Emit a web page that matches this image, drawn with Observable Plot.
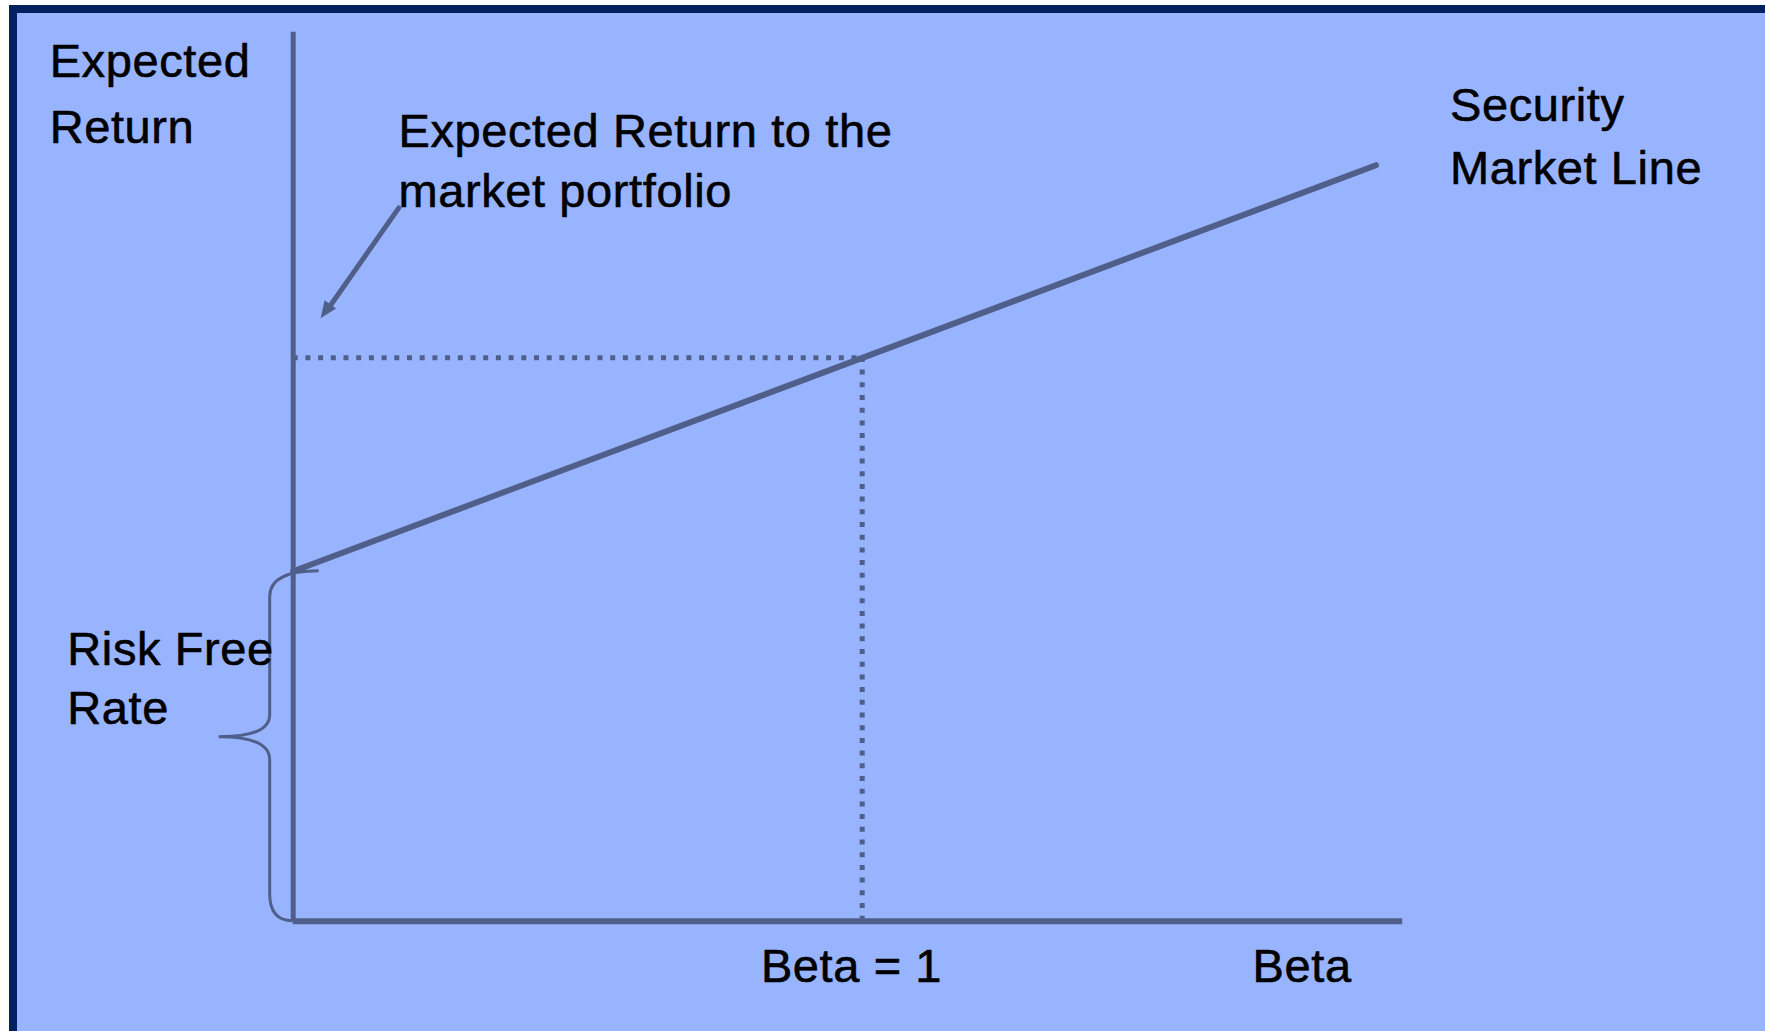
<!DOCTYPE html>
<html><head><meta charset="utf-8">
<script src="https://cdn.jsdelivr.net/npm/d3@7"></script>
<script src="https://cdn.jsdelivr.net/npm/@observablehq/plot@0.6"></script>
<style>
html,body{margin:0;padding:0;background:#fff;overflow:hidden;width:1765px;height:1031px;}
#frame{position:absolute;left:9px;top:5px;width:1800px;height:1040px;box-sizing:border-box;border:8px solid #04215f;background:#99b4ff;}
#chart{position:absolute;left:0;top:0;}
</style></head><body>
<div id="frame"></div>
<div id="chart"></div>
<script>
// ---- data (beta, expected return) ----
const riskFree = 5;
const marketBeta = 1;
const marketReturn = 8.05;
const smlBeta = [0, 1.903];
const smlReturn = [5, 10.8];
const axisBetaEnd = 1.95;
const axisReturnTop = 12.7;
const arrowFrom = [0.1856, 10.19];
const arrowTo = [0.049, 8.606];

// ---- annotation text lines ----
const labelText = ["Expected", "Return", "Expected Return to the", "market portfolio",
  "Security", "Market Line", "Risk Free", "Rate", "Beta = 1", "Beta"];
const labelBeta = [-0.428, -0.428, 0.185, 0.185, 2.033, 2.033, -0.397, -0.397, 0.822, 1.686];
const labelReturn = [12.543, 11.591, 11.534, 10.677, 11.914, 11.004, 4.143, 3.296, -0.39, -0.39];

const ink = "#4f5f8a";
const sml = smlBeta.map((b, i) => ({beta: b, ret: smlReturn[i]}));
const labels = labelText.map((t, i) => ({text: t, beta: labelBeta[i], ret: labelReturn[i]}));

// curly brace spanning the risk-free rate on the return axis
const braceMark = (index, scales) => {
  const X = scales.x, Y = scales.y;
  const ax = X(0), yT = Y(riskFree), yB = Y(0);
  const yM = (yT + yB) / 2 - 9, sx = ax - 23, tx = ax - 74;
  const p = d3.path();
  p.moveTo(ax + 26, yT);
  p.quadraticCurveTo(sx, yT, sx, yT + 26);
  p.lineTo(sx, yM - 22);
  p.quadraticCurveTo(sx, yM, tx, yM);
  p.quadraticCurveTo(sx, yM, sx, yM + 23);
  p.lineTo(sx, yB - 27);
  p.quadraticCurveTo(sx, yB, ax, yB);
  return d3.create("svg:path")
    .attr("d", p.toString())
    .attr("fill", "none")
    .attr("stroke", ink)
    .attr("stroke-width", 3)
    .node();
};

// filled arrowhead at the end of the pointer arrow
const arrowHeadMark = (index, scales) => {
  const X = scales.x, Y = scales.y;
  const x0 = X(arrowFrom[0]), y0 = Y(arrowFrom[1]);
  const x1 = X(arrowTo[0]), y1 = Y(arrowTo[1]);
  const len = Math.hypot(x1 - x0, y1 - y0);
  const ux = (x1 - x0) / len, uy = (y1 - y0) / len;
  const L = 17, W = 7;
  const bx = x1 - ux * L, by = y1 - uy * L;
  const pts = [[x1, y1], [bx - uy * W, by + ux * W], [bx + uy * W, by - ux * W]];
  return d3.create("svg:polygon")
    .attr("points", pts.map(p => p.join(",")).join(" "))
    .attr("fill", ink)
    .node();
};

const chart = Plot.plot({
  width: 1765, height: 1031,
  margin: 0,
  x: {domain: [0, 2], range: [292.7, 292.7 + 2 * 569], axis: null},
  y: {domain: [0, 13], range: [920.7, 920.7 - 13 * 70], axis: null},
  style: {background: "transparent", fontFamily: "'Liberation Sans', Arial, sans-serif", letterSpacing: "0.6px"},
  marks: [
    // dotted guides to the market portfolio
    Plot.ruleY([marketReturn], {x1: 0, x2: marketBeta, stroke: ink, strokeWidth: 5, strokeDasharray: "5,7.7"}),
    Plot.ruleX([marketBeta], {y1: 0, y2: marketReturn, stroke: ink, strokeWidth: 5, strokeDasharray: "5,7.7"}),
    // axes
    Plot.ruleX([0], {y1: 0, y2: axisReturnTop, stroke: ink, strokeWidth: 5}),
    Plot.ruleY([0], {x1: 0, x2: axisBetaEnd, stroke: ink, strokeWidth: 6}),
    // security market line
    Plot.line(sml, {x: "beta", y: "ret", stroke: ink, strokeWidth: 6}),
    // brace
    braceMark,
    // arrow
    Plot.arrow([{x1: arrowFrom[0], y1: arrowFrom[1], x2: arrowTo[0], y2: arrowTo[1]}],
      {x1: "x1", y1: "y1", x2: "x2", y2: "y2", stroke: ink, strokeWidth: 5, headLength: 0, insetEnd: 12}),
    arrowHeadMark,
    // labels
    Plot.text(labels, {x: "beta", y: "ret", text: "text", textAnchor: "start", lineAnchor: "top",
      fontSize: 47, fill: "#000", stroke: "#000", strokeWidth: 0.6})
  ]
});
document.getElementById("chart").appendChild(chart);
</script>
</body></html>
